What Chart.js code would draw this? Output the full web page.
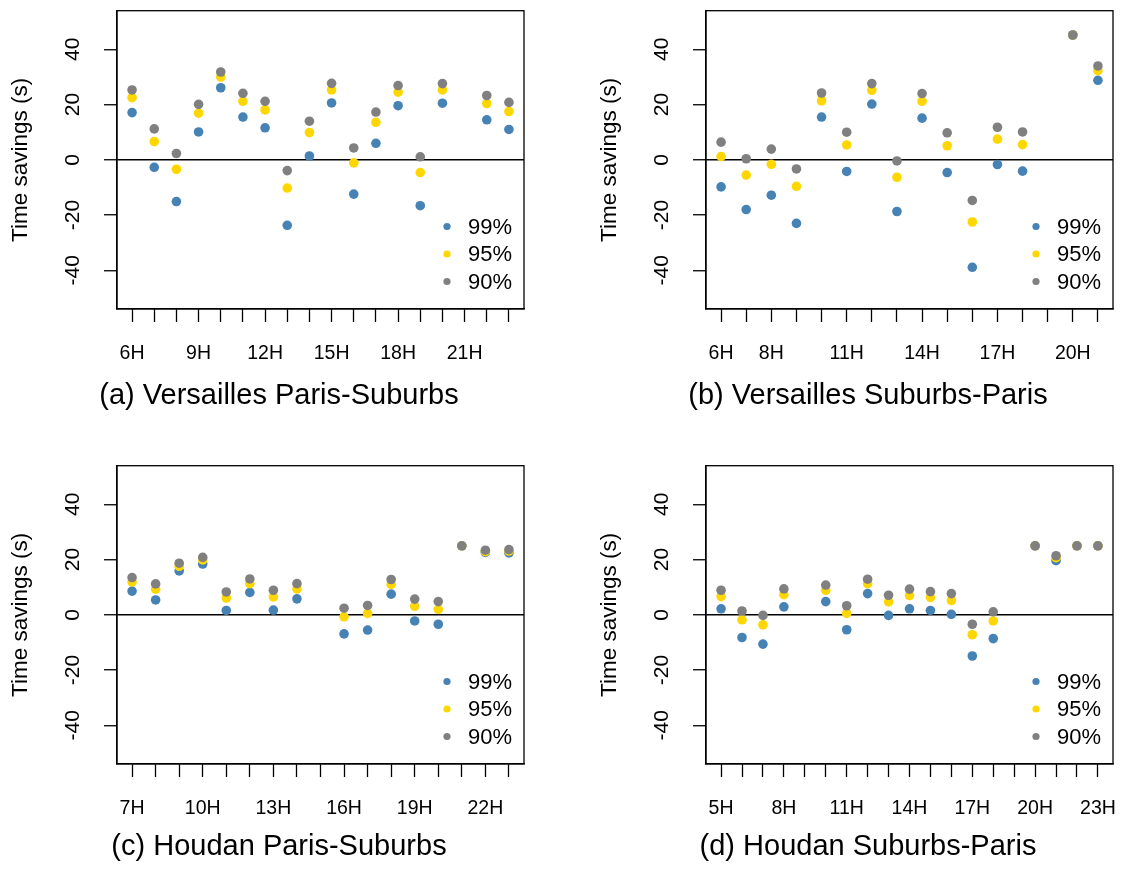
<!DOCTYPE html>
<html>
<head>
<meta charset="utf-8">
<script src="https://cdn.jsdelivr.net/npm/chart.js@4.4.0/dist/chart.umd.min.js"></script>
<style>
  body { margin: 0; background: #fff; overflow: hidden; width: 1124px; height: 869px; }
  canvas { position: absolute; }
</style>
</head>
<body>
<canvas id="pa" width="558" height="420" style="left:0;top:0"></canvas>
<canvas id="pb" width="558" height="420" style="left:589px;top:0"></canvas>
<canvas id="pc" width="558" height="420" style="left:0;top:455px"></canvas>
<canvas id="pd" width="558" height="420" style="left:589px;top:455px"></canvas>
<script>
// (a) Versailles Paris-Suburbs
const hoursA = [6, 7, 8, 9, 10, 11, 12, 13, 14, 15, 16, 17, 18, 19, 20, 21, 22, 23];
const labelsA = ['6H', '9H', '12H', '15H', '18H', '21H'];
const a99 = [17.1, -2.7, -15.1, 10.1, 26.1, 15.5, 11.6, -23.7, 1.4, 20.6, -12.4, 6.0, 19.6, -16.6, 20.5, null, 14.5, 11.0];
const a95 = [22.5, 6.6, -3.4, 16.9, 30.0, 21.2, 18.1, -10.2, 9.9, 25.3, -1.1, 13.6, 24.5, -4.6, 25.3, null, 20.4, 17.5];
const a90 = [25.3, 11.2, 2.3, 20.1, 31.8, 24.1, 21.2, -3.9, 14.0, 27.7, 4.3, 17.3, 26.9, 1.1, 27.6, null, 23.3, 20.8];

// (b) Versailles Suburbs-Paris
const hoursB = [6, 7, 8, 9, 10, 11, 12, 13, 14, 15, 16, 17, 18, 19, 20, 21];
const labelsB = ['6H', '8H', '11H', '14H', '17H', '20H'];
const b99 = [-9.8, -18.0, -12.8, -23.0, 15.5, -4.2, 20.2, -18.7, 15.1, -4.6, -38.9, -1.7, -4.1, null, 45.2, 28.8];
const b95 = [1.2, -5.5, -1.6, -9.6, 21.4, 5.4, 25.2, -6.3, 21.2, 5.1, -22.5, 7.5, 5.5, null, 45.2, 32.3];
const b90 = [6.4, 0.4, 3.9, -3.3, 24.2, 10.0, 27.6, -0.4, 24.0, 9.8, -14.7, 11.8, 10.1, null, 45.2, 34.0];

// (c) Houdan Paris-Suburbs
const hoursC = [7, 8, 9, 10, 11, 12, 13, 14, 15, 16, 17, 18, 19, 20, 21, 22, 23];
const labelsC = ['7H', '10H', '13H', '16H', '19H', '22H'];
const c99 = [8.6, 5.4, 15.9, 18.4, 1.6, 8.1, 1.7, 5.8, null, -6.9, -5.5, 7.5, -2.2, -3.4, 25.0, 22.6, 22.4];
const c95 = [11.9, 9.3, 17.6, 19.9, 6.1, 11.3, 6.5, 9.4, null, -0.7, 0.5, 11.0, 3.1, 2.0, 25.0, 22.9, 23.1];
const c90 = [13.5, 11.2, 18.7, 20.8, 8.3, 13.0, 8.9, 11.3, null, 2.4, 3.4, 12.8, 5.7, 4.8, 25.0, 23.4, 23.6];

// (d) Houdan Suburbs-Paris
const hoursD = [5, 6, 7, 8, 9, 10, 11, 12, 13, 14, 15, 16, 17, 18, 19, 20, 21, 22, 23];
const labelsD = ['5H', '8H', '11H', '14H', '17H', '20H', '23H'];
const d99 = [2.2, -8.2, -10.6, 2.9, null, 4.8, -5.4, 7.7, -0.2, 2.2, 1.6, 0.2, -14.9, -8.6, null, 25.0, 19.6, 25.0, 25.0];
const d95 = [6.6, -1.8, -3.6, 7.3, null, 8.9, 0.5, 11.3, 4.7, 7.0, 6.3, 5.2, -7.2, -2.2, null, 25.0, 20.7, 25.0, 25.0];
const d90 = [8.9, 1.4, -0.2, 9.4, null, 10.8, 3.3, 12.9, 7.1, 9.3, 8.4, 7.7, -3.4, 1.1, null, 25.0, 21.4, 25.0, 25.0];

const levels = ['99%', '95%', '90%'];
const yTicks = [-40, -20, 0, 20, 40];

const BLUE = '#4682B4';
const GOLD = '#FFD700';
const GREY = '#808080';
const colors = [BLUE, GOLD, GREY];
const FONT = "'Liberation Sans', Arial, sans-serif";

Chart.defaults.font.family = FONT;
Chart.defaults.color = '#000';

// box round the plot region, like R's box()
const boxPlugin = {
  id: 'box',
  afterDatasetsDraw(chart) {
    const { ctx, chartArea: a } = chart;
    ctx.save();
    ctx.strokeStyle = '#000';
    ctx.lineWidth = 1.3;
    ctx.strokeRect(a.left, a.top, a.right - a.left, a.bottom - a.top);
    ctx.restore();
  },
};

// legend drawn inside the plot, bottom right
const insideLegend = {
  id: 'insideLegend',
  afterDraw(chart) {
    const { ctx, chartArea: a } = chart;
    ctx.save();
    ctx.font = `22px ${FONT}`;
    ctx.textBaseline = 'middle';
    ctx.textAlign = 'left';
    levels.forEach((name, i) => {
      const y = a.bottom - 82.5 + i * 27.5;
      ctx.fillStyle = colors[i];
      ctx.beginPath();
      ctx.arc(a.right - 77, y, 3.6, 0, Math.PI * 2);
      ctx.fill();
      ctx.fillStyle = '#000';
      ctx.fillText(name, a.right - 56, y + 1);
    });
    ctx.restore();
  },
};

function makePanel(id, hours, labels, values, caption, capGap) {
  const lo = hours[0];
  const hi = hours[hours.length - 1];
  const pad = (hi - lo) * 0.04;

  const datasets = levels.map((name, i) => ({
    label: name,
    data: hours.map((h, j) => ({ x: h, y: values[i][j] })).filter((p) => p.y !== null),
    backgroundColor: colors[i],
    borderWidth: 0,
    pointRadius: 4.8,
    order: 2 - i,
  }));

  return new Chart(document.getElementById(id), {
    type: 'scatter',
    data: { datasets },
    plugins: [boxPlugin, insideLegend],
    options: {
      responsive: false,
      animation: false,
      events: [],
      layout: { padding: { top: 10.7, left: 0, right: 0, bottom: 0 } },
      plugins: {
        legend: { display: false },
        tooltip: { enabled: false },
        title: {
          display: true,
          text: caption,
          position: 'bottom',
          color: '#000',
          font: { size: 29, weight: 'normal' },
          // the gap below fills the canvas so the plot bottom lands at 309
          padding: { top: capGap, bottom: 420 - 309 - 60 - 34.8 - capGap },
        },
      },
      scales: {
        x: {
          type: 'linear',
          min: lo - pad,
          max: hi + pad,
          afterBuildTicks: (s) => { s.ticks = hours.map((h) => ({ value: h })); },
          afterFit: (s) => { s.height = 60; s.paddingLeft = 0; s.paddingRight = 0; },
          ticks: {
            autoSkip: false,
            maxRotation: 0,
            padding: 20,
            font: { size: 19.5 },
            callback: (v) => (labels.includes(`${v}H`) ? `${v}H` : ''),
          },
          grid: { drawOnChartArea: false, tickLength: 13, tickColor: '#000', tickWidth: 1.3 },
          border: { color: '#000', width: 1.3 },
        },
        y: {
          min: -54,
          max: 54,
          afterBuildTicks: (s) => { s.ticks = yTicks.map((v) => ({ value: v })); },
          afterFit: (s) => { s.width = 117; s.paddingTop = 0; s.paddingBottom = 0; },
          ticks: {
            minRotation: 90,
            maxRotation: 90,
            crossAlign: 'center',
            padding: 16,
            font: { size: 21 },
          },
          grid: {
            color: (c) => (c.tick && c.tick.value === 0 ? '#000' : 'rgba(0,0,0,0)'),
            lineWidth: 1.5,
            tickColor: '#000',
            tickLength: 13,
            tickWidth: 1.3,
          },
          border: { color: '#000', width: 1.3 },
          title: {
            display: true,
            text: 'Time savings (s)',
            font: { size: 22.5 },
            padding: { top: 7 },
          },
        },
        yR: {
          position: 'right',
          afterFit: (s) => { s.width = 34; s.paddingTop = 0; s.paddingBottom = 0; },
          ticks: { display: false },
          grid: { display: false },
          border: { display: false },
        },
      },
    },
  });
}

makePanel('pa', hoursA, labelsA, [a99, a95, a90], '(a) Versailles Paris-Suburbs', 9.6);
makePanel('pb', hoursB, labelsB, [b99, b95, b90], '(b) Versailles Suburbs-Paris', 9.6);
makePanel('pc', hoursC, labelsC, [c99, c95, c90], '(c) Houdan Paris-Suburbs', 5.3);
makePanel('pd', hoursD, labelsD, [d99, d95, d90], '(d) Houdan Suburbs-Paris', 5.3);
</script>
</body>
</html>
